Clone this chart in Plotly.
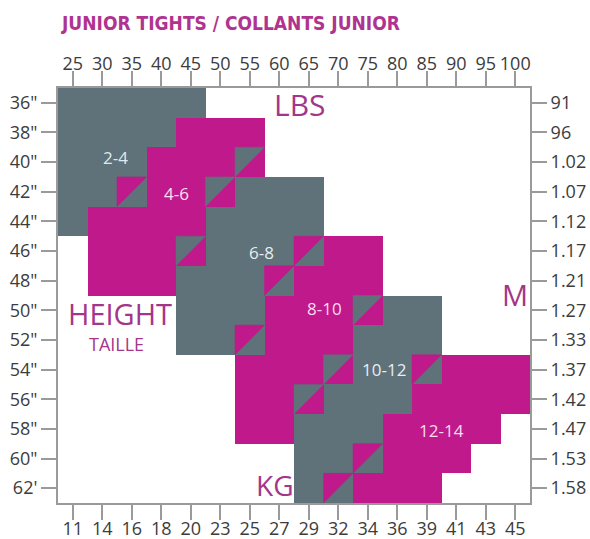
import plotly.graph_objects as go

# ---------------- data ----------------
lbs_labels = ["25", "30", "35", "40", "45", "50", "55", "60", "65", "70",
              "75", "80", "85", "90", "95", "100"]
kg_labels = ["11", "14", "16", "18", "20", "23", "25", "27", "29", "32",
             "34", "36", "39", "41", "43", "45"]
inch_labels = ['36"', '38"', '40"', '42"', '44"', '46"', '48"', '50"',
               '52"', '54"', '56"', '58"', '60"', "62'"]
metre_labels = ["91", "96", "1.02", "1.07", "1.12", "1.17", "1.21", "1.27",
                "1.33", "1.37", "1.42", "1.47", "1.53", "1.58"]

size_names = ["2-4", "4-6", "6-8", "8-10", "10-12", "12-14"]
size_label_col = [1.45, 3.5, 6.4, 8.55, 10.55, 12.5]
size_label_row = [1.85, 3.05, 5.05, 6.95, 9.0, 11.05]

# one string per height row, one character per weight column
# g = grey, m = magenta, G = grey upper-left / magenta lower-right,
# M = magenta upper-left / grey lower-right, . = empty
size_grid = [
    "ggggg...........",
    "ggggmmm.........",
    "gggmmmG.........",
    "ggMmmGggg.......",
    "gmmmmgggg.......",
    ".mmmGgggMmm.....",
    ".mmmgggMmmm.....",
    "....gggmmmGgg...",
    "....ggMmmmggg...",
    "......mmmGggMmmm",
    "......mmGgggmmmm",
    "......mmgggmmmm.",
    "........ggMmmm..",
    "........gMmmm...",
]

GREY = "#5f7179"
MAG = "#c0198b"
TXT = "#a3368a"
AX = "#9a9a9a"
TICKTXT = "#3c3c3c"

ncol = len(lbs_labels)
nrow = len(inch_labels)

# lower-right colour fills the whole cell, upper-left triangle drawn on top
code_val = {".": None, "g": 1, "m": 2, "G": 2, "M": 1}
z = [[code_val[ch] for ch in row] for row in size_grid]

fig = go.Figure()
fig.add_trace(go.Heatmap(
    z=z, x=list(range(ncol)), y=list(range(nrow)),
    colorscale=[[0, GREY], [1, MAG]], zmin=1, zmax=2,
    showscale=False, hoverinfo="skip", zsmooth=False,
))

tri = {"G": ([], []), "M": ([], [])}
for r, row in enumerate(size_grid):
    for c, ch in enumerate(row):
        if ch in tri:
            xs, ys = tri[ch]
            xs += [c - 0.5, c + 0.5, c - 0.5, c - 0.5, None]
            ys += [r - 0.5, r - 0.5, r + 0.5, r - 0.5, None]

for key, col in (("G", GREY), ("M", MAG)):
    xs, ys = tri[key]
    fig.add_trace(go.Scatter(
        x=xs, y=ys, mode="lines", fill="toself", fillcolor=col,
        line=dict(color=col, width=0.5), hoverinfo="skip", showlegend=False,
    ))

# invisible trace to activate the top / right axes
fig.add_trace(go.Scatter(x=[0], y=[0], xaxis="x2", yaxis="y2", mode="markers",
                         marker=dict(opacity=0), hoverinfo="skip", showlegend=False))

tickfont = dict(family="Open Sans", size=18, color=TICKTXT)
common = dict(ticks="outside", ticklen=15, tickwidth=1.5, tickcolor=AX,
              showline=True, linecolor=AX, linewidth=2, showgrid=False,
              zeroline=False, tickangle=0, tickfont=tickfont, tickmode="array",
              fixedrange=True, automargin=False)

fig.update_layout(
    template="none",
    width=590, height=539,
    margin=dict(l=58, r=60, t=88, b=36),
    paper_bgcolor="white", plot_bgcolor="white",
    showlegend=False,
    xaxis=dict(range=[-0.5, ncol - 0.5], tickvals=list(range(ncol)),
               ticktext=kg_labels, ticklabelstandoff=-7, **common),
    xaxis2=dict(range=[-0.5, ncol - 0.5], tickvals=list(range(ncol)),
                ticktext=lbs_labels, overlaying="x", side="top",
                ticklabelstandoff=-6, **common),
    yaxis=dict(range=[nrow - 0.5, -0.5], tickvals=list(range(nrow)),
               ticktext=inch_labels, **common),
    yaxis2=dict(range=[nrow - 0.5, -0.5], tickvals=list(range(nrow)),
                ticktext=metre_labels, overlaying="y", side="right", **common),
    title=dict(text="<b>JUNIOR TIGHTS / COLLANTS JUNIOR</b>",
               font=dict(family="Liberation Sans Narrow, DejaVu Sans Condensed, Roboto Condensed, Roboto",
                         size=19, color="#b0338f"),
               x=62 / 590, xanchor="left", xref="container",
               y=1 - 23.5 / 539, yanchor="middle", yref="container"),
)

# size labels inside the blocks
label_colors = ["#dfe9ee", "#f7e2ef", "#e6eef1", "#f8ddef", "#e6eef1", "#f8ddef"]
for name, cx, cy, lc in zip(size_names, size_label_col, size_label_row, label_colors):
    fig.add_annotation(x=cx, y=cy, xref="x", yref="y", text=name, showarrow=False,
                       font=dict(family="Open Sans", size=17, color=lc))

# unit captions
captions = [
    ("LBS", 7.70, 0.07, 30),
    ("M", 14.99, 6.45, 29),
    ("HEIGHT", 1.60, 7.12, 29),
    ("TAILLE", 1.48, 8.15, 18),
    ("KG", 6.87, 12.89, 28),
]
for text, cx, cy, sz in captions:
    fig.add_annotation(x=cx, y=cy, xref="x", yref="y", text=text, showarrow=False,
                       font=dict(family="Open Sans", size=sz, color=TXT))

fig.write_html("out.html", config={"displayModeBar": False},
               post_script="document.body.style.margin='0';document.body.style.overflow='hidden';")
